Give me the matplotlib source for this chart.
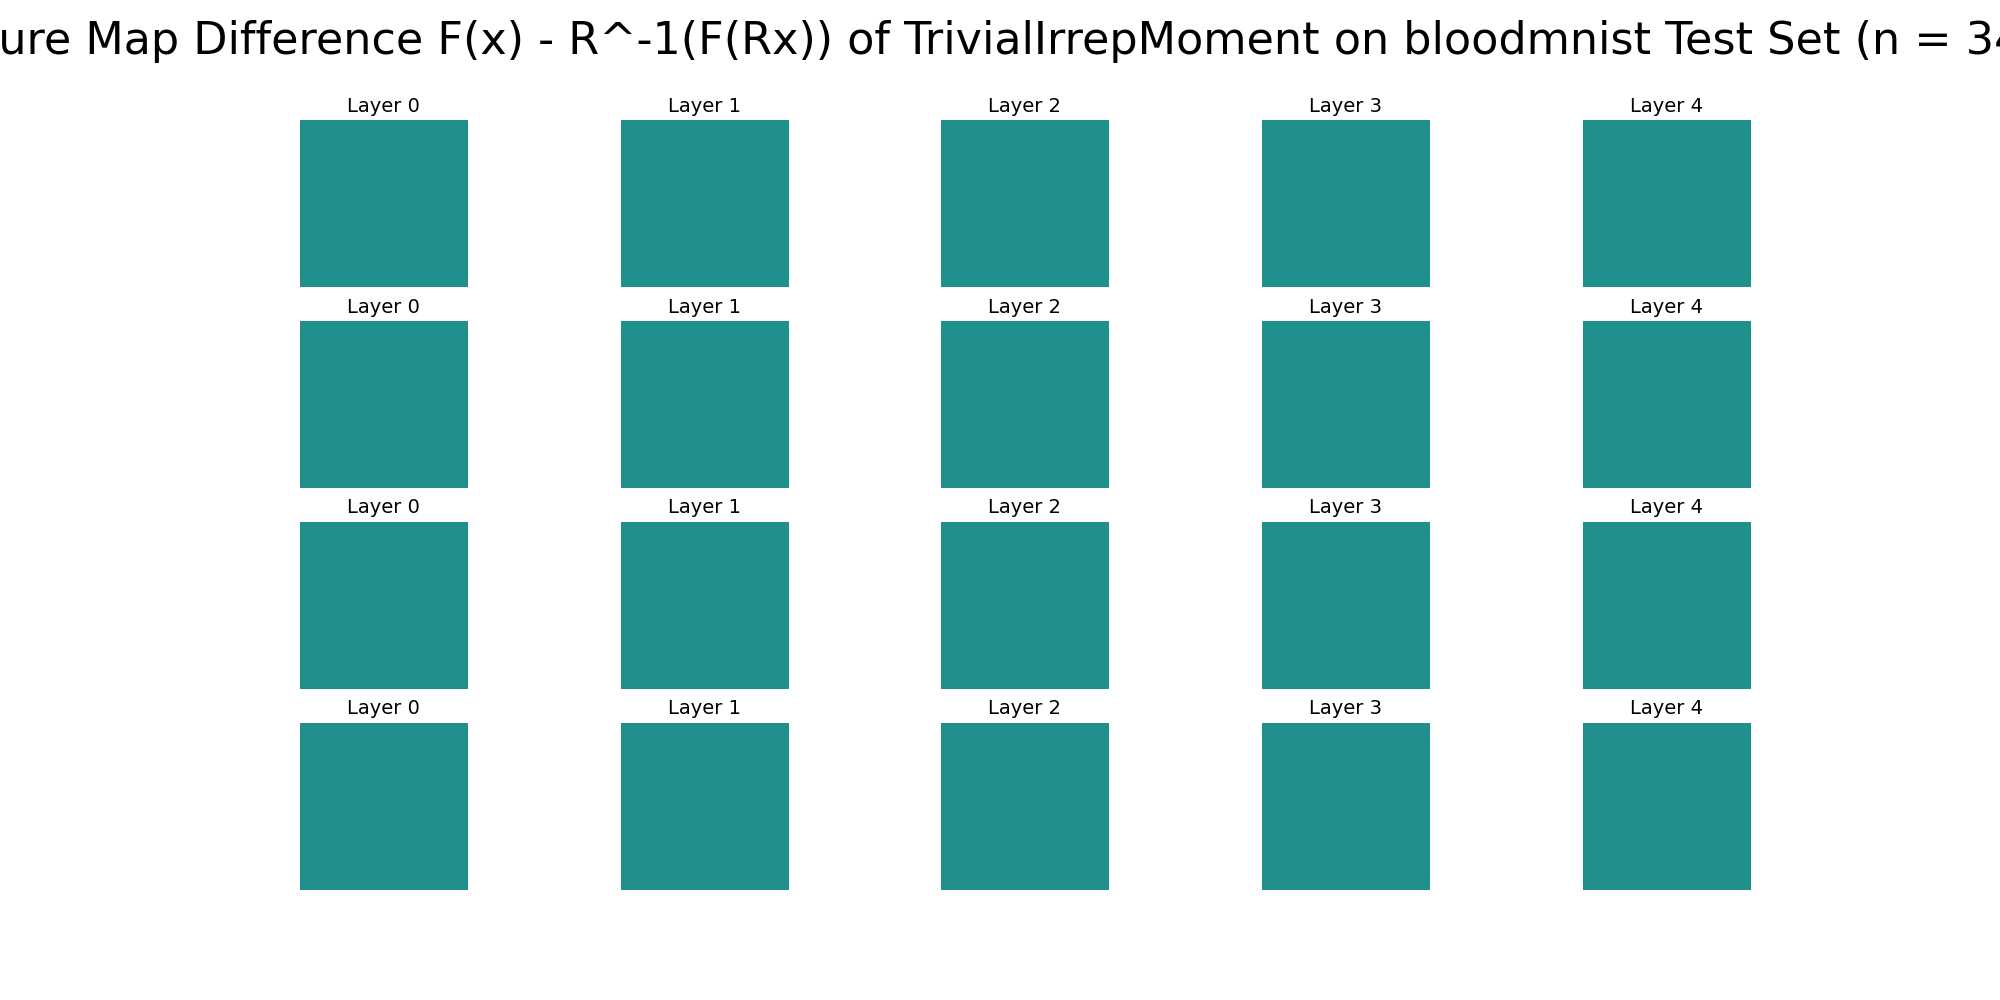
import numpy as np
import matplotlib
matplotlib.use("Agg")
import matplotlib.pyplot as plt

model_name = "TrivialIrrepMoment"
dataset = "bloodmnist"
n_samples = 3421
layers = [0, 1, 2, 3, 4]
n_rows = 4

# difference maps are all zero (model is exactly equivariant)
diff_maps = [[np.zeros((28, 28)) for _ in layers] for _ in range(n_rows)]

fig, axes = plt.subplots(n_rows, len(layers), figsize=(20, 10))
for r in range(n_rows):
    for c, layer in enumerate(layers):
        ax = axes[r, c]
        ax.imshow(diff_maps[r][c], cmap="viridis", vmin=-1, vmax=1)
        ax.set_title(f"Layer {layer}", fontsize=14)
        ax.axis("off")

fig.suptitle(f"Feature Map Difference F(x) - R^-1(F(Rx)) of {model_name} on {dataset} Test Set (n = {n_samples})",
             fontsize=32)
fig.savefig("out.png", dpi=100)
